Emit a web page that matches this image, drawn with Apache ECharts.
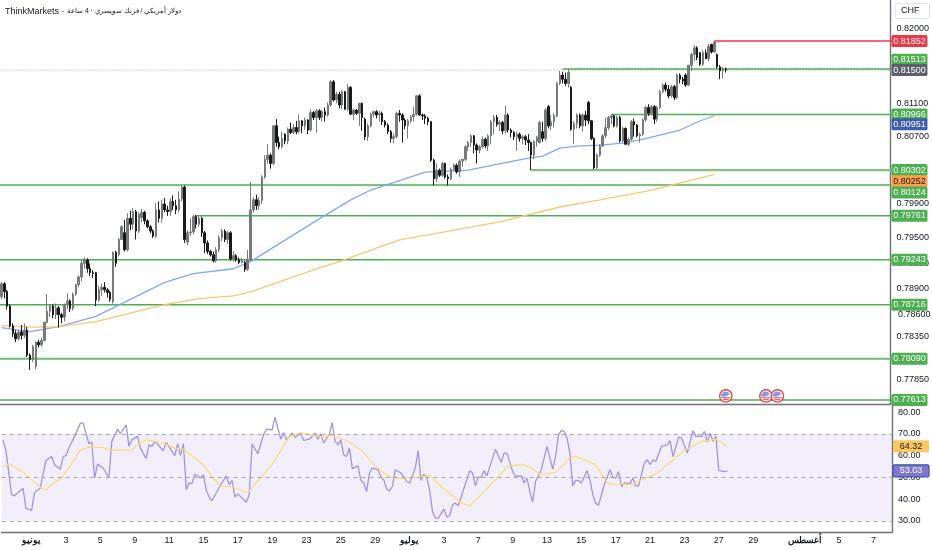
<!DOCTYPE html>
<html><head><meta charset="utf-8">
<style>html,body{margin:0;padding:0;background:#fff}#c{width:932px;height:550px}</style>
<script src="https://cdn.jsdelivr.net/npm/echarts@6/dist/echarts.min.js"></script>
</head><body><div id="c"></div>
<script>
const opens=[7881,7896,7887,7870,7847,7838,7832,7840,7836,7842,
7813,7808,7800,7828,7825,7830,7851,7864,7870,7860,
7868,7860,7857,7872,7876,7867,7884,7895,7904,7920,
7924,7914,7909,7909,7877,7889,7892,7889,7886,7875,
7933,7930,7948,7956,7936,7973,7966,7981,7958,7974,
7980,7970,7963,7958,7952,7983,7973,7990,7983,7981,
7993,7988,7983,7996,8010,7945,7956,7957,7975,7966,
7973,7956,7944,7934,7930,7923,7936,7950,7958,7948,
7956,7925,7929,7924,7921,7921,7913,7924,7983,7995,
7988,7994,8022,8043,8048,8038,8083,8063,8058,8073,
8065,8079,8075,8081,8076,8089,8083,8090,8078,8099,
8093,8101,8093,8100,8096,8108,8136,8114,8121,8108,
8124,8103,8129,8097,8102,8098,8110,8091,8070,8083,
8097,8100,8096,8098,8088,8084,8076,8068,8070,8098,
8096,8090,8083,8089,8094,8097,8119,8096,8095,8092,
8088,8042,8020,8030,8024,8038,8022,8020,8031,8036,
8028,8041,8043,8058,8063,8071,8060,8054,8058,8067,
8059,8071,8088,8093,8085,8087,8077,8096,8078,8075,
8070,8073,8068,8070,8066,8063,8048,8064,8063,8076,
8068,8106,8083,8088,8095,8134,8144,8139,8134,8129,
8079,8086,8096,8083,8096,8111,8089,8068,8033,8048,
8059,8071,8081,8093,8095,8083,8093,8065,8080,8061,
8067,8088,8084,8071,8073,8090,8105,8098,8106,8091,
8105,8124,8132,8127,8119,8130,8117,8144,8139,8144,
8132,8156,8169,8177,8171,8157,8171,8164,8181,8172,
8169,8154,8149,8151];
const closes=[7896,7887,7870,7847,7838,7832,7840,7836,7842,7813,
7808,7823,7828,7825,7830,7851,7864,7870,7860,7868,
7860,7857,7872,7876,7867,7884,7895,7904,7920,7924,
7914,7909,7908,7877,7889,7892,7889,7886,7878,7933,
7920,7948,7963,7936,7973,7966,7981,7958,7978,7980,
7970,7963,7958,7952,7983,7973,7990,7983,7981,7993,
7988,7983,7996,8010,7948,7956,7957,7975,7966,7973,
7956,7944,7934,7930,7923,7936,7950,7958,7948,7956,
7925,7929,7924,7921,7923,7913,7924,7983,7995,7988,
7994,8022,8043,8048,8038,8083,8063,8058,8068,8065,
8079,8075,8081,8076,8089,8083,8090,8078,8099,8093,
8101,8093,8100,8096,8108,8136,8114,8121,8108,8124,
8103,8129,8097,8102,8098,8110,8093,8070,8083,8097,
8100,8096,8098,8088,8084,8076,8068,8070,8098,8096,
8090,8083,8089,8094,8097,8119,8096,8095,8092,8088,
8042,8020,8030,8024,8038,8022,8020,8031,8036,8028,
8041,8043,8058,8063,8071,8060,8054,8058,8067,8059,
8071,8088,8093,8085,8087,8077,8096,8078,8075,8070,
8073,8068,8070,8066,8063,8048,8064,8069,8087,8068,
8102,8083,8088,8095,8134,8144,8139,8134,8147,8079,
8086,8096,8083,8096,8090,8089,8068,8033,8048,8059,
8071,8081,8093,8095,8083,8093,8065,8080,8061,8067,
8088,8084,8071,8073,8090,8105,8098,8106,8091,8105,
8124,8132,8127,8119,8130,8117,8144,8139,8137,8132,
8156,8169,8177,8165,8157,8171,8164,8179,8172,8184,
8154,8149,8151,8150];
const lows=[7878,7879,7866,7845,7834,7828,7830,7831,7833,7811,
7796,7805,7797,7822,7823,7829,7850,7857,7856,7855,
7845,7850,7852,7866,7863,7865,7882,7892,7899,7914,
7909,7905,7903,7870,7875,7882,7886,7880,7875,7873,
7916,7928,7948,7934,7934,7959,7960,7948,7956,7968,
7966,7961,7955,7950,7950,7968,7968,7980,7976,7976,
7983,7978,7980,7993,7944,7941,7952,7954,7961,7963,
7951,7932,7931,7928,7921,7921,7933,7946,7945,7943,
7923,7922,7922,7919,7920,7910,7911,7922,7980,7983,
7983,7990,8020,8038,8032,8036,8058,8055,8056,8061,
8061,8073,8073,8073,8074,8074,8078,8073,8076,8090,
8075,8090,8088,8088,8094,8106,8112,8110,8104,8103,
8102,8101,8096,8090,8096,8083,8077,8066,8065,8081,
8093,8092,8088,8084,8081,8073,8063,8062,8068,8088,
8063,8079,8068,8086,8088,8095,8095,8090,8085,8084,
8040,8012,8016,8022,8022,8020,8012,8018,8029,8026,
8022,8034,8041,8053,8058,8050,8038,8050,8056,8056,
8053,8061,8073,8082,8077,8073,8074,8075,8069,8066,
8053,8064,8061,8060,8053,8030,8043,8058,8062,8064,
8065,8080,8078,8081,8093,8132,8134,8131,8129,8077,
8061,8080,8080,8076,8083,8085,8066,8031,8031,8046,
8058,8068,8078,8085,8081,8081,8063,8063,8060,8059,
8065,8070,8069,8063,8071,8088,8095,8096,8085,8088,
8103,8122,8124,8116,8117,8114,8115,8134,8133,8130,
8131,8149,8161,8162,8155,8155,8163,8161,8170,8171,
8152,8139,8140,8147];
const highs=[7898,7898,7889,7872,7850,7842,7842,7848,7850,7846,
7815,7825,7829,7831,7833,7852,7884,7872,7872,7873,
7870,7862,7873,7885,7878,7886,7896,7906,7924,7927,
7926,7920,7912,7910,7894,7896,7898,7891,7888,7934,
7935,7950,7965,7971,7979,7982,7985,7983,7980,7984,
7982,7972,7965,7960,7991,7993,7995,7997,7988,7997,
8000,7995,8005,8012,8012,7959,7973,7977,7977,7976,
7975,7958,7947,7936,7934,7939,7953,7961,7960,7958,
7958,7934,7931,7927,7926,7923,7936,8016,7998,8001,
7998,8024,8048,8061,8050,8084,8091,8070,8076,8074,
8081,8087,8085,8089,8097,8090,8093,8091,8103,8101,
8103,8103,8102,8105,8111,8138,8138,8124,8124,8126,
8125,8133,8131,8104,8103,8111,8111,8093,8086,8099,
8101,8102,8101,8100,8090,8086,8078,8074,8100,8102,
8098,8092,8091,8096,8106,8120,8121,8098,8097,8094,
8089,8044,8038,8032,8040,8039,8025,8033,8038,8038,
8043,8044,8060,8065,8073,8072,8062,8060,8070,8069,
8073,8090,8096,8096,8090,8089,8107,8098,8080,8077,
8076,8075,8072,8072,8073,8064,8066,8071,8089,8088,
8104,8108,8096,8098,8136,8149,8148,8147,8151,8131,
8088,8098,8098,8098,8101,8113,8090,8069,8050,8061,
8073,8093,8095,8097,8096,8095,8095,8082,8081,8069,
8090,8092,8085,8075,8092,8107,8109,8108,8108,8107,
8126,8134,8135,8132,8132,8132,8146,8146,8142,8146,
8156,8171,8180,8179,8172,8174,8175,8182,8182,8185,
8170,8156,8154,8153];

const blueIdx=[0,10,20,33,57,67,81,87,111,122,129,148,163,184,189,195,201,209,218,226,237,243,249];
const blueVal=[7845,7840.3,7846.2,7858,7897.8,7908,7913.7,7922,7972.4,7994.8,8006.5,8027.8,8030.2,8044.4,8046.8,8056.4,8058.8,8060,8062.6,8068.6,8078,8087.6,8095.1];
const orangeIdx=[0,10,20,33,57,69,81,87,111,118,139,149,174,195,209,226,249];
const orangeVal=[7847.4,7845.6,7846,7852,7871.6,7878.7,7882,7886.7,7914.7,7922,7947.5,7953.4,7968.8,7986.4,7994.8,8005.5,8025.2];

const rsiIdx=[0,1,3,4,7,8,10,11,13,15,17,18,20,21,22,23,25,27,28,30,31,32,33,35,37,38,40,41,43,44,45,47,48,50,51,52,53,56,57,60,61,62,63,64,65,66,67,69,70,71,72,73,76,78,79,80,81,82,85,86,87,89,91,92,94,95,97,98,99,101,102,104,105,107,109,110,111,112,
114,115,116,117,118,119,120,121,122,124,125,126,127,128,129,131,132,133,134,135,136,137,139,141,142,143,144,145,146,147,148,149,150,151,152,154,155,156,157,158,159,163,164,165,166,167,168,169,172,174,175,176,178,179,181,182,183,184,185,186,188,190,192,193,194,195,196,197,198,199,200,201,202,204,205,206,207,208,210,212,213,214,215,216,
217,219,220,221,222,224,225,226,227,228,230,232,233,234,236,237,239,241,242,244,245,246,247,248,249,250,252,253];
const rsiVal=[67.3,62.7,42,41.5,45,35.8,34.8,43,45,57.8,59.6,55.8,53.8,59.6,60,63.5,68.9,75,75,65.5,66.3,49.7,56.1,54.3,49.7,66.6,72.2,70.1,74.2,64.3,67.3,68.9,63.5,58.6,65,64.3,66.6,62.4,66.1,60,65.5,60,65.5,44.3,47.4,47.1,51.5,49.7,51.2,44,40.9,39.2,46.6,50.7,46.6,48.6,40.9,42.4,38.5,42,65.5,60.9,69.6,72.2,71.9,77.8,67.6,70.7,67.3,70.4,68.4,70.4,67,67.6,70.4,67.6,70.1,65.8,
70,75.3,66.6,65,67.3,60.4,59.6,63.5,54,55.3,48.6,47.4,43.5,52,54.3,53.5,50.1,48.9,44.6,43.8,45.8,53.5,52,48.1,47.4,50.7,54.3,62.3,48.6,51.5,50.1,44.3,34.3,31.2,31.2,35.4,31.7,32.3,37.4,38.1,36.9,53.1,52,46.1,50.1,50.1,53.1,50.7,63,57,61.2,61.2,52.7,50.4,50.7,47.4,49.7,43.5,38.6,48.1,53.5,64.3,53.8,59.6,69.6,71.5,71.2,68.1,61.2,46.1,48.6,48.6,47.4,53.1,48.9,42,38.1,37.1,46.6,53.5,50,49.7,52.7,45.8,
47.4,47.1,49.7,46.1,46.1,56.6,58.1,55.8,58.1,57.3,64.3,65,66.9,59.6,68.6,68.1,61.2,71.5,68.9,68.9,71.2,66.3,70.4,66.6,68.9,53.2,52.7,53];
const maIdx=[0,2,7,13,15,17,20,23,27,30,35,37,45,47,50,56,60,63,70,73,76,80,85,86,88,94,100,104,108,111,115,120,125,130,135,139,146,149,153,158,160,163,167,172,176,181,184,188,193,198,200,207,211,213,216,220,223,228,234,238,244,249,253];
const maVal=[54.7,56.3,52.4,45.5,44.3,46.6,49.2,54.3,62.7,64,63.8,62.4,62.7,65,67.3,65.8,63.5,63,55.8,50.4,45.8,45.8,43,43.5,46.9,55.8,68.9,70.7,69.6,68.6,69.2,67,62.7,55.3,50.1,49.5,50.1,50.9,45.8,40.4,38.1,36.9,42,48.9,54.7,56.1,54.7,51.2,52.3,58.9,59.8,55.8,47.7,46.6,47,46.6,48.9,51.5,58.1,62.4,66.6,67.6,64.32];

const timeLabels=['يونيو','3','5','9','11','15','17','19','23','25','29','يوليو','3','7','9','13','15','17','21','23','27','29','أغسطس','5','7'];
const timeIdx=[10,22,34,46,58,70,82,94,106,118,130,142,154,166,178,190,202,214,226,238,250,262,280,292,304];
const monthLabels=['يونيو','يوليو','أغسطس'];
const priceTicks=[0.82,0.811,0.807,0.799,0.795,0.792,0.789,0.7835,0.7785];
const rsiTicks=[30,40,50,60,70,80];

const levelVal=[0.81852,0.81513,0.80966,0.80302,0.80124,0.79761,0.79243,0.78716,0.7809,0.77613];
const levelStart=[249,196,213,185,-1,68,-1,-1,-1,-1];
const lastPrice=0.815;
const eventIdx=[253,267,271];
const eventPrice=[0.7766,0.7766,0.7766];

const priceTagVal=[0.81852,0.81513,0.815,0.80966,0.80951,0.80302,0.80252,0.80124,0.79761,0.79243,0.78716,0.7809,0.77613];
const rsiTagVal=[64.32,53.03];

// styling (not data)
const N=311, F='"Liberation Sans",Arial,sans-serif', INK='#131722', G='#4caf50';
const levelColor=['#f23645',G,G,'#7ec581',G,G,G,G,'#6dbb70',G];
const levelWidth=[1.5,1.5,1.5,2.2,1.5,1.5,1.5,1.5,2,1.6];
const tagNudge=[0,-9.3,0,0,8.6,0,7,7.5,0,0,0,0,0];
const tagFill=['#f23645',G,'#5d606b',G,'#3f5cae',G,'#ff9f43',G,G,G,G,G,G];
const tagInk=['#fff','#fff','#fff','#fff','#fff','#fff','#131722','#fff','#fff','#fff','#fff','#fff','#fff'];
const rsiFill=['#fbc75e','#7f78cf'], rsiInk=['#131722','#fff'], rsiStroke=[null,'#3f51a8'];

const cats=Array.from({length:N},(_,i)=>{const k=timeIdx.indexOf(i);return k>=0?timeLabels[k]:''+'';});
const zip=(a,b,s=1)=>a.map((x,i)=>[x,b[i]/s]);
const candle=opens.map((o,i)=>[o/1e4,closes[i]/1e4,lows[i]/1e4,highs[i]/1e4]);
const plain={type:'line',symbol:'none',silent:true,animation:false};

function tagRender(fill,ink,stroke,nudge,fmt){
  return function(params,api){
    const y=api.coord([N-1,api.value(1)])[1]+nudge[params.dataIndex];
    const x=params.coordSys.x+params.coordSys.width;
    const i=params.dataIndex;
    return {type:'group',children:[
      {type:'rect',shape:{x:x+1,y:y-6,width:36,height:12,r:1.5},style:{fill:fill[i],stroke:stroke?stroke[i]:null,lineWidth:1.2}},
      {type:'text',style:{x:x+19,y:y,text:fmt(api.value(1)),fill:ink[i],font:'9px '+F,align:'center',verticalAlign:'middle'}}
    ]};
  };
}
function flagRender(params,api){
  const p=api.coord([api.value(0),api.value(1)]);
  const cx=p[0],cy=p[1];
  return {type:'group',children:[
    {type:'circle',shape:{cx,cy,r:6.2},style:{fill:'#fff',stroke:'#e5484d',lineWidth:1.4}},
    {type:'sector',shape:{cx:cx-.3,cy:cy+.5,r:4.8,r0:0,startAngle:Math.PI,endAngle:Math.PI*1.85},style:{fill:'#7f9ce8'}},
    {type:'line',shape:{x1:cx-3.8,y1:cy+1.8,x2:cx+4.4,y2:cy+1.8},style:{stroke:'#e5484d',lineWidth:1}},
    {type:'line',shape:{x1:cx-2.8,y1:cy+3.7,x2:cx+2.8,y2:cy+3.7},style:{stroke:'#e5484d',lineWidth:1}}
  ]};
}

const series=[];
levelVal.forEach((v,i)=>series.push({...plain,xAxisIndex:0,yAxisIndex:0,z:1,
  data:[[levelStart[i],v],[N,v]],lineStyle:{color:levelColor[i],width:levelWidth[i]}}));
series.push({...plain,xAxisIndex:0,yAxisIndex:0,z:1,data:[[-1,lastPrice],[N,lastPrice]],
  lineStyle:{color:'#9a9ca6',width:1,type:[1,2]}});
series.push({...plain,xAxisIndex:0,yAxisIndex:0,z:2,data:zip(blueIdx,blueVal,1e4),lineStyle:{color:'#82a7f3',width:1.3}});
series.push({...plain,xAxisIndex:0,yAxisIndex:0,z:2,data:zip(orangeIdx,orangeVal,1e4),lineStyle:{color:'#fbc672',width:1.3}});
series.push({type:'candlestick',xAxisIndex:0,yAxisIndex:0,z:3,data:candle,barWidth:2,silent:true,animation:false,
  itemStyle:{color:'#777a7a',color0:'#1a1a1a',borderColor:'#777a7a',borderColor0:'#1a1a1a',borderWidth:1}});
series.push({...plain,xAxisIndex:1,yAxisIndex:1,z:2,data:zip(rsiIdx,rsiVal),lineStyle:{color:'#a593da',width:1.3},
  markArea:{silent:true,itemStyle:{color:'rgba(126,87,194,0.1)'},data:[[{yAxis:70},{yAxis:30}]]},
  markLine:{silent:true,symbol:'none',label:{show:false},lineStyle:{color:'#a3a5ad',type:[4,4],width:1},data:[{yAxis:70},{yAxis:50},{yAxis:30}],animation:false}});
series.push({...plain,xAxisIndex:1,yAxisIndex:1,z:2,data:zip(maIdx,maVal),lineStyle:{color:'#f8dc74',width:1.2}});
series.push({type:'custom',xAxisIndex:0,yAxisIndex:0,z:20,silent:true,clip:false,animation:false,
  data:eventIdx.map((x,i)=>[x,eventPrice[i]]),renderItem:flagRender});
series.push({type:'custom',xAxisIndex:0,yAxisIndex:0,z:20,silent:true,clip:false,animation:false,
  data:priceTagVal.map(v=>[N-1,v]),renderItem:tagRender(tagFill,tagInk,null,tagNudge,v=>v.toFixed(5))});
series.push({type:'custom',xAxisIndex:1,yAxisIndex:1,z:20,silent:true,clip:false,animation:false,
  data:rsiTagVal.map(v=>[N-1,v]),renderItem:tagRender(rsiFill,rsiInk,rsiStroke,[0,0],v=>v.toFixed(2))});

const axisLine={show:true,lineStyle:{color:'#6f727c',width:1.4}};
const option={
  backgroundColor:'#fff',animation:false,
  title:{text:'{a|ThinkMarkets · }{b|دولار أمريكي / فرنك سويسري · 4 ساعة}',left:5,top:6,padding:0,
    textStyle:{fontWeight:'normal',rich:{a:{fontSize:9,fontWeight:'normal',color:INK,fontFamily:F,lineHeight:11},b:{fontSize:6.8,fontWeight:'normal',color:INK,fontFamily:F,lineHeight:11}}}},
  grid:[{left:0,top:0,width:892,height:404},{left:0,top:404,width:892,height:128}],
  xAxis:[
    {type:'category',gridIndex:0,data:cats,axisLine,axisTick:{show:false},axisLabel:{show:false},splitLine:{show:false}},
    {type:'category',gridIndex:1,data:cats,axisLine,axisTick:{show:false},splitLine:{show:false},
     axisLabel:{interval:0,hideOverlap:false,margin:4,color:INK,fontSize:9,fontFamily:F,
       formatter:v=>v===''?'':(monthLabels.includes(v)?'{m|'+v+'}':v),rich:{m:{fontWeight:'bold',fontSize:9,color:INK,fontFamily:F}}}}
  ],
  yAxis:[
    {type:'log',logBase:Math.E,gridIndex:0,position:'right',min:0.77567,max:0.82351,axisLine,axisTick:{show:false},splitLine:{show:false},
     axisLabel:{customValues:priceTicks,margin:6,color:INK,fontSize:9,fontFamily:F,formatter:v=>(+v).toFixed(5),showMinLabel:true,showMaxLabel:true}},
    {type:'value',gridIndex:1,position:'right',min:24.82,max:83.82,axisLine,axisTick:{show:false},splitLine:{show:false},
     axisLabel:{customValues:rsiTicks,margin:6,color:INK,fontSize:9,fontFamily:F,formatter:v=>(+v).toFixed(2)}}
  ],
  graphic:[
    {type:'rect',left:895,top:3,z:30,shape:{width:34,height:15,r:2},style:{fill:'#fff',stroke:'#e0e3eb',lineWidth:1}},
    {type:'text',left:901,top:6.5,z:31,style:{text:'CHF',font:'9px '+F,fill:INK}},
    {type:'text',left:898,top:310,z:31,style:{text:'0.78600',font:'9px '+F,fill:INK}}
  ],
  series
};
const chart=echarts.init(document.getElementById('c'),null,{width:932,height:550});
chart.setOption(option);
</script></body></html>
